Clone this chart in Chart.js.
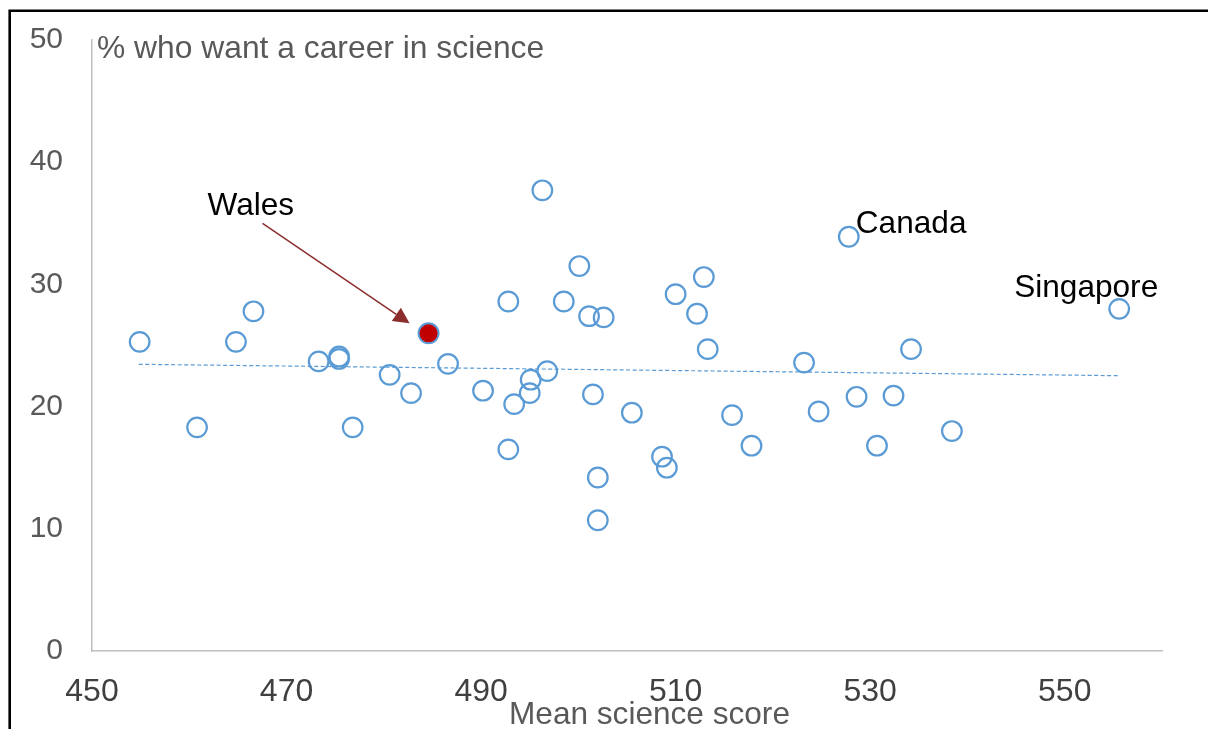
<!DOCTYPE html>
<html>
<head>
<meta charset="utf-8">
<script src="https://cdn.jsdelivr.net/npm/chart.js@4.4.1/dist/chart.umd.min.js"></script>
<style>
  html, body { margin: 0; padding: 0; background: #ffffff; }
  canvas { display: block; }
</style>
</head>
<body>
<canvas id="chart" width="1208" height="729"></canvas>
<script>
// Mean science score and share of students who want a science career, by country
const scores = [
  454.9, 460.8, 464.8, 466.6, 473.3, 475.4, 475.4, 476.8, 480.6, 482.8,
  486.6, 490.2, 492.8, 492.8, 493.4, 495.1, 495.0, 496.3, 496.8, 498.5,
  500.1, 501.1, 501.5, 502.6, 502.0, 502.0, 505.5, 508.6, 509.1, 510.0,
  512.2, 512.9, 513.3, 515.8, 517.8, 523.2, 524.7, 527.8, 528.6, 530.7,
  532.4, 534.2, 538.4, 555.6
];
const careerPct = [
  25.3, 18.3, 25.3, 27.8, 23.7, 24.1, 23.9, 18.3, 22.6, 21.1,
  23.5, 21.3, 28.6, 16.5, 20.2, 22.2, 21.1, 37.7, 22.9, 28.6,
  31.5, 27.4, 21.0, 27.3, 14.2, 10.7, 19.5, 15.9, 15.0, 29.2,
  27.6, 30.6, 24.7, 19.3, 16.8, 23.6, 19.6, 33.9, 20.8, 16.8,
  20.9, 24.7, 18.0, 28.0
];

// Wales, highlighted
const walesScore = [484.6];
const walesPct = [26.0];

// Linear trend line end points
const trendScores = [454.8, 555.5];
const trendPct = [23.46, 22.53];

// Labelled countries (index into the series above)
const labelNames = ['Canada', 'Singapore'];
const labelIndex = [37, 43];

// Axis ticks
const xTicks = [450, 470, 490, 510, 530, 550];
const yTicks = [0, 10, 20, 30, 40, 50];

const FONT = '"Liberation Sans", Arial, sans-serif';
const BLUE = '#5B9BD5';

const overlay = {
  id: 'overlay',
  afterDatasetsDraw(chart) {
    const { ctx, scales: { x, y } } = chart;
    ctx.save();

    // Axis captions
    ctx.fillStyle = '#595959';
    ctx.font = '31.8px ' + FONT;
    ctx.textAlign = 'left';
    ctx.textBaseline = 'alphabetic';
    ctx.fillText('% who want a career in science', 97, 58);
    ctx.font = '31.6px ' + FONT;
    ctx.fillText('Mean science score', 509, 724);

    // Country labels
    ctx.fillStyle = '#000000';
    ctx.font = '31.6px ' + FONT;
    const cx = x.getPixelForValue(scores[labelIndex[0]]);
    const cy = y.getPixelForValue(careerPct[labelIndex[0]]);
    ctx.textAlign = 'left';
    ctx.fillText(labelNames[0], cx + 7, cy - 4);
    const sx = x.getPixelForValue(scores[labelIndex[1]]);
    const sy = y.getPixelForValue(careerPct[labelIndex[1]]);
    ctx.textAlign = 'right';
    ctx.fillText(labelNames[1], sx + 39, sy - 12);

    // Wales label with arrow
    const wx = x.getPixelForValue(walesScore[0]);
    const wy = y.getPixelForValue(walesPct[0]);
    ctx.textAlign = 'left';
    ctx.fillText('Wales', wx - 221, wy - 118);

    const x0 = wx - 166, y0 = wy - 110;
    const x1 = wx - 19, y1 = wy - 10;
    const len = Math.hypot(x1 - x0, y1 - y0);
    const ux = (x1 - x0) / len, uy = (y1 - y0) / len;
    const headLen = 16, headHalf = 8;
    const bx = x1 - ux * headLen, by = y1 - uy * headLen;
    ctx.strokeStyle = '#8C2D2D';
    ctx.fillStyle = '#8C2D2D';
    ctx.lineWidth = 1.5;
    ctx.beginPath();
    ctx.moveTo(x0, y0);
    ctx.lineTo(bx, by);
    ctx.stroke();
    ctx.beginPath();
    ctx.moveTo(x1, y1);
    ctx.lineTo(bx - uy * headHalf, by + ux * headHalf);
    ctx.lineTo(bx + uy * headHalf, by - ux * headHalf);
    ctx.closePath();
    ctx.fill();

    ctx.restore();
  },
  afterDraw(chart) {
    // Outer frame (left and top edges)
    const { ctx } = chart;
    ctx.save();
    ctx.strokeStyle = '#000000';
    ctx.lineWidth = 2.6;
    ctx.beginPath();
    ctx.moveTo(9.7, 729);
    ctx.lineTo(9.7, 10.7);
    ctx.lineTo(1208, 10.7);
    ctx.stroke();
    ctx.restore();
  }
};

new Chart(document.getElementById('chart'), {
  type: 'scatter',
  data: {
    datasets: [
      {
        label: 'Wales',
        data: walesScore.map((v, i) => ({ x: v, y: walesPct[i] })),
        pointRadius: 10,
        pointBorderWidth: 2,
        pointBackgroundColor: '#C00000',
        pointBorderColor: BLUE,
        order: 0
      },
      {
        label: 'Countries',
        data: scores.map((v, i) => ({ x: v, y: careerPct[i] })),
        pointRadius: 9.8,
        pointBorderWidth: 2.2,
        pointBackgroundColor: 'rgba(0,0,0,0)',
        pointBorderColor: BLUE,
        order: 1
      },
      {
        label: 'Trend',
        data: trendScores.map((v, i) => ({ x: v, y: trendPct[i] })),
        showLine: true,
        borderColor: BLUE,
        borderWidth: 1.2,
        borderDash: [4, 2.5],
        pointRadius: 0,
        order: 2
      }
    ]
  },
  options: {
    responsive: false,
    animation: false,
    devicePixelRatio: 1,
    layout: { padding: { top: 40, right: 46, left: 0, bottom: 0 } },
    plugins: {
      legend: { display: false },
      tooltip: { enabled: false }
    },
    scales: {
      x: {
        type: 'linear',
        min: 450,
        max: 560,
        afterBuildTicks: (axis) => { axis.ticks = xTicks.map(v => ({ value: v })); },
        afterFit: (scale) => {
          scale.height = 78;
          scale.paddingLeft = 0;
          scale.paddingRight = 0;
        },
        grid: { display: false, drawTicks: false },
        border: { display: true, color: '#BFBFBF', width: 1.5 },
        ticks: {
          autoSkip: false,
          maxRotation: 0,
          padding: 22,
          color: '#404040',
          font: { family: FONT, size: 32 }
        }
      },
      y: {
        type: 'linear',
        min: 0,
        max: 50,
        afterBuildTicks: (axis) => { axis.ticks = yTicks.map(v => ({ value: v })); },
        afterFit: (scale) => {
          scale.width = 92;
          scale.paddingTop = 0;
          scale.paddingBottom = 0;
        },
        grid: { display: false, drawTicks: false },
        border: { display: true, color: '#BFBFBF', width: 1.5 },
        ticks: {
          padding: 29,
          color: '#595959',
          font: { family: FONT, size: 30 }
        }
      }
    }
  },
  plugins: [overlay]
});
</script>
</body>
</html>
